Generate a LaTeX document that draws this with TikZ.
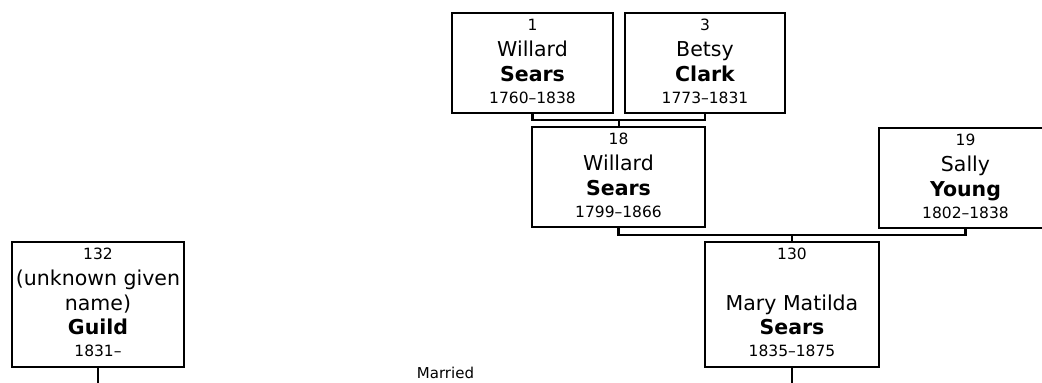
\documentclass[tikz,border=0pt]{standalone}
\usepackage{fontspec}
\setmainfont{DejaVu Sans}
\usetikzlibrary{calc}
\tikzset{
  pbox/.style={draw=black, line width=2.4pt, rectangle, inner sep=0pt, outer sep=0pt, anchor=north west},
  conn/.style={draw=black, line width=2.4pt},
  numtxt/.style={font=\fontsize{15.5}{18}\selectfont, inner sep=0pt, anchor=base},
  giventxt/.style={font=\fontsize{20.5}{25}\selectfont, inner sep=0pt, anchor=base},
  surtxt/.style={font=\bfseries\fontsize{20.5}{25}\selectfont, inner sep=0pt, anchor=base},
}
% #1 id, #2 offset from top, #3 style, #4 text, #5 suffix for node name
\newcommand\plabel[5]{\node[#3] (#1#5) at ([yshift=-#2pt]#1.north) {#4};}
\begin{document}
\begin{tikzpicture}[x=1pt,y=-1pt]
\useasboundingbox (0,0) rectangle (1042,383);
\clip (0,0) rectangle (1042,383);

% boxes
\node[pbox, minimum width=161pt, minimum height=100pt] (b1) at (452,13) {};
\node[pbox, minimum width=160pt, minimum height=100pt] (b3) at (625,13) {};
\node[pbox, minimum width=173pt, minimum height=100pt] (b18) at (532,127) {};
\node[pbox, minimum width=173pt, minimum height=100pt] (b19) at (879,128) {};
\node[pbox, minimum width=174pt, minimum height=125pt] (b130) at (705,242) {};
\node[pbox, minimum width=172pt, minimum height=125pt] (b132) at (12,242) {};

% texts
\plabel{b1}{17.5}{numtxt}{1}{n}
\plabel{b1}{43.5}{giventxt}{Willard}{g}
\plabel{b1}{68}{surtxt}{Sears}{s}
\plabel{b1}{90.5}{numtxt}{1760\textendash1838}{d}

\plabel{b3}{17.5}{numtxt}{3}{n}
\plabel{b3}{43.5}{giventxt}{Betsy}{g}
\plabel{b3}{68}{surtxt}{Clark}{s}
\plabel{b3}{90.5}{numtxt}{1773\textendash1831}{d}

\plabel{b18}{17.5}{numtxt}{18}{n}
\plabel{b18}{43.5}{giventxt}{Willard}{g}
\plabel{b18}{68}{surtxt}{Sears}{s}
\plabel{b18}{90.5}{numtxt}{1799\textendash1866}{d}

\plabel{b19}{17.5}{numtxt}{19}{n}
\plabel{b19}{43.5}{giventxt}{Sally}{g}
\plabel{b19}{68}{surtxt}{Young}{s}
\plabel{b19}{90.5}{numtxt}{1802\textendash1838}{d}

\plabel{b130}{17}{numtxt}{130}{n}
\plabel{b130}{68.5}{giventxt}{Mary Matilda}{g}
\plabel{b130}{92.5}{surtxt}{Sears}{s}
\plabel{b130}{114.5}{numtxt}{1835\textendash1875}{d}

\plabel{b132}{17.5}{numtxt}{132}{n}
\plabel{b132}{43.5}{giventxt}{(unknown given}{g}
\plabel{b132}{68.5}{giventxt}{name)}{h}
\plabel{b132}{92.5}{surtxt}{Guild}{s}
\plabel{b132}{114.5}{numtxt}{1831\textendash}{d}

% connectors
\coordinate (m13) at (619,120);
\draw[conn] (b1.south) |- (m13) -| (b3.south);
\draw[conn] (m13) -- (m13 |- b18.north);

\coordinate (m1819) at (792,235);
\draw[conn] (b18.south) |- (m1819) -| (b19.south);
\draw[conn] (m1819) -- (m1819 |- b130.north);

\coordinate (e132) at ($(b132.south)+(0,20)$);
\coordinate (e130) at ($(b130.south)+(0,20)$);
\draw[conn] (b132.south) -- (e132);
\draw[conn] (b130.south) -- (e130);

\node[font=\fontsize{15}{18}\selectfont, inner sep=0pt, anchor=base] (married) at (445.5,378.5) {Married};
\end{tikzpicture}
\end{document}
